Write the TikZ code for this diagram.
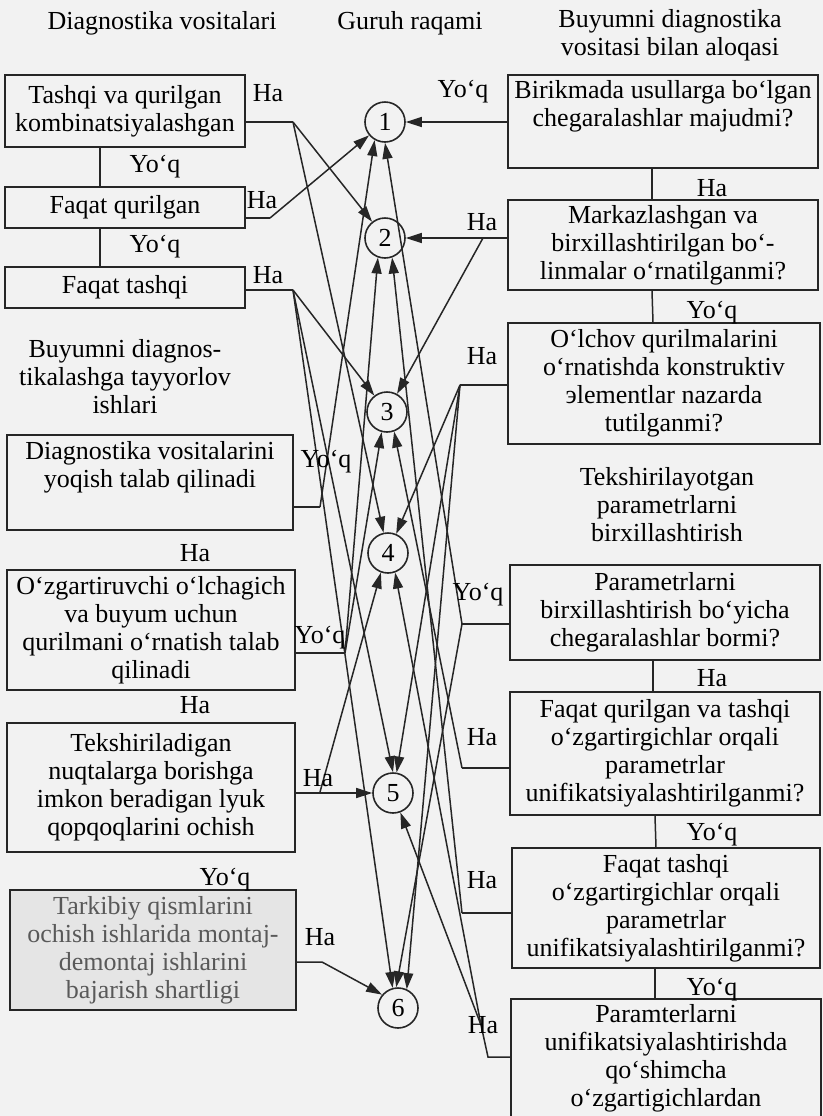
\documentclass[tikz,border=0pt]{standalone}
\usepackage{fontspec}
\setmainfont{Liberation Serif}
\usetikzlibrary{arrows.meta,positioning}

\tikzset{
  savol/.style={draw=black!85, line width=0.9pt, align=center, inner sep=1pt, font=\fontsize{13}{14}\selectfont},
  guruh/.style={draw=black!85, circle, line width=0.8pt, minimum size=20pt, inner sep=0pt, font=\fontsize{13}{14}\selectfont},
  javob/.style={inner sep=0pt, font=\fontsize{13}{14}\selectfont},
  sarlavha/.style={align=center, font=\fontsize{13}{14}\selectfont},
  ulash/.style={line width=0.75pt, draw=black!85},
  strel/.style={ulash, -{Triangle[length=8pt, width=5pt]}},
}

\begin{document}
\begin{tikzpicture}[x=0.5pt, y=-0.5pt]
  \fill[black!5] (0,0) rectangle (823,1116);
  \useasboundingbox (0,0) rectangle (823,1116);

  % sarlavhalar
  \node[sarlavha] (h1) at (162,23) {Diagnostika vositalari};
  \node[sarlavha] (h2) at (410,23) {Guruh raqami};
  \node[sarlavha] (h3) at (670,35) {Buyumni diagnostika\\vositasi bilan aloqasi};
  \node[sarlavha] (h4) at (125,377) {Buyumni diagnos-\\tikalashga tayyorlov\\ishlari};
  \node[sarlavha] (h5) at (667,505) {Tekshirilayotgan\\parametrlarni\\birxillashtirish};

  % chap ustun
  \node[savol, minimum width=120pt, minimum height=36pt] (l1) at (125,111) {Tashqi va qurilgan\\kombinatsiyalashgan};
  \node[savol, minimum width=120pt, minimum height=20.5pt] (l2) at (125,207.5) {Faqat qurilgan};
  \node[savol, minimum width=120pt, minimum height=20.5pt] (l3) at (125,287.5) {Faqat tashqi};
  \node[savol, minimum width=143pt, minimum height=47.5pt] (l4) at (150,482.5) {Diagnostika vositalarini\\yoqish talab qilinadi\\[4pt]~};
  \node[savol, minimum width=144pt, minimum height=60pt] (l5) at (151,630) {O‘zgartiruvchi o‘lchagich\\va buyum uchun\\qurilmani o‘rnatish talab\\qilinadi};
  \node[savol, minimum width=144pt, minimum height=64.5pt] (l6) at (151,787.5) {Tekshiriladigan\\nuqtalarga borishga\\imkon beradigan lyuk\\qopqoqlarini ochish};
  \node[savol, fill=black!10, text=black!65, minimum width=143pt, minimum height=60pt] (l7) at (153,950) {Tarkibiy qismlarini\\ochish ishlarida montaj-\\demontaj ishlarini\\bajarish shartligi};

  % o'ng ustun
  \node[savol, minimum width=155pt, minimum height=46.5pt] (r1) at (663,121.5) {Birikmada usullarga bo‘lgan\\chegaralashlar majudmi?\\[4pt]~};
  \node[savol, minimum width=155pt, minimum height=45pt] (r2) at (663,245) {Markazlashgan va\\birxillashtirilgan bo‘-\\linmalar o‘rnatilganmi?};
  \node[savol, minimum width=156pt, minimum height=60.5pt] (r3) at (664,383.5) {O‘lchov qurilmalarini\\o‘rnatishda konstruktiv\\эlementlar nazarda\\tutilganmi?};
  \node[savol, minimum width=155pt, minimum height=47.5pt] (r4) at (665,612.5) {Parametrlarni\\birxillashtirish bo‘yicha\\chegaralashlar bormi?};
  \node[savol, minimum width=155pt, minimum height=61.5pt] (r5) at (665,753.5) {Faqat qurilgan va tashqi\\o‘zgartirgichlar orqali\\parametrlar\\unifikatsiyalashtirilganmi?};
  \node[savol, minimum width=154pt, minimum height=60pt] (r6) at (666,908) {Faqat tashqi\\o‘zgartirgichlar orqali\\parametrlar\\unifikatsiyalashtirilganmi?};
  \node[savol, draw=none, minimum width=154pt, minimum height=58pt] (r7) at (666,1058) {Paramterlarni\\unifikatsiyalashtirishda\\qo‘shimcha\\o‘zgartigichlardan};
  \draw[savol] (r7.south west) -- (r7.north west) -- (r7.north east) -- (r7.south east);

  % guruh raqamlari
  \node[guruh] (g1) at (385,122) {1};
  \node[guruh] (g2) at (385,238) {2};
  \node[guruh] (g3) at (387,412) {3};
  \node[guruh] (g4) at (388,553) {4};
  \node[guruh] (g5) at (393,793) {5};
  \node[guruh] (g6) at (398,1008) {6};

  % tarmoqlanish nuqtalari
  \coordinate (f1) at (293,122);
  \coordinate (f2) at (270,218);
  \coordinate (f3) at (293,290);
  \coordinate (f4) at (320,507);
  \coordinate (f5) at (345,653);
  \coordinate (f6) at (320,792);
  \coordinate (f7) at (322,962);
  \coordinate (e2) at (483,238);
  \coordinate (e3) at (460,385);
  \coordinate (e4) at (462,624);
  \coordinate (e5) at (462,768);
  \coordinate (e6) at (462,913);
  \coordinate (e7) at (488,1057);
  \coordinate (e7a) at (481,1025);

  % chap ustundagi bog'lanishlar
  \draw[ulash] ([xshift=-12.5pt]l1.south) -- ([xshift=-12.5pt]l2.north);
  \draw[ulash] ([xshift=-12.5pt]l2.south) -- ([xshift=-12.5pt]l3.north);
  \draw[ulash] (l1.east |- f1) -- (f1);
  \draw[strel] (f1) -- (g2);
  \draw[strel] (f1) -- (g4);
  \draw[ulash] (l2.east |- f2) -- (f2);
  \draw[strel] (f2) -- (g1);
  \draw[ulash] (l3.east |- f3) -- (f3);
  \draw[strel] (f3) -- (g3);
  \draw[strel] (f3) -- (g5.north);
  \draw[strel] (f3) -- (g6.105);
  \draw[ulash] (l4.east |- f4) -- (f4);
  \draw[strel] (f4) -- (g1.240);
  \draw[ulash] (l5.east |- f5) -- (f5);
  \draw[strel] (f5) -- (g2.250);
  \draw[strel] (f5) -- (g3.255);
  \draw[strel] (l6.east |- g5) -- (g5);
  \draw[strel] (f6) -- (g4.250);
  \draw[strel] (l7.east |- f7) -- (f7) -- (g6.140);

  % o'ng ustundagi bog'lanishlar
  \draw[ulash] ([xshift=-5.5pt]r1.south) -- ([xshift=-5.5pt]r2.north);
  \draw[ulash] ([xshift=-5.5pt]r2.south) -- ([xshift=-5.5pt]r3.north);
  \draw[ulash] ([xshift=-6pt]r4.south) -- ([xshift=-6pt]r5.north);
  \draw[ulash] ([xshift=-5pt]r5.south) -- ([xshift=-5pt]r6.north);
  \draw[ulash] ([xshift=-5.5pt]r6.south) -- ([xshift=-5.5pt]r7.north);
  \draw[strel] (r1.west |- g1) -- (g1);
  \draw[strel] (r2.west |- g2) -- (g2);
  \draw[strel] (e2) -- (g3);
  \draw[ulash] (r3.west |- e3) -- (e3);
  \draw[strel] (e3) -- (g4);
  \draw[strel] (e3) -- (g5.80);
  \draw[strel] (e3) -- (g6.65);
  \draw[ulash] (r4.west |- e4) -- (e4);
  \draw[strel] (e4) -- (g1.south);
  \draw[strel] (e4) -- (g6.95);
  \draw[ulash] (r5.west |- e5) -- (e5);
  \draw[strel] (e5) -- (g3.290);
  \draw[ulash] (r6.west |- e6) -- (e6);
  \draw[strel] (e6) -- (g2.290);
  \draw[ulash] (r7.west |- e7) -- (e7) -- (e7a);
  \draw[strel] (e7a) -- (g5);
  \draw[strel] (e7a) -- (g4.290);

  % javoblar
  \node[javob] (a1) at (268,93) {Ha};
  \node[javob] (a2) at (155,167) {Yo‘q};
  \node[javob] (a3) at (262,200) {Ha};
  \node[javob] (a4) at (155,247) {Yo‘q};
  \node[javob] (a5) at (268,275) {Ha};
  \node[javob] (a6) at (326,462) {Yo‘q};
  \node[javob] (a7) at (195,553) {Ha};
  \node[javob] (a8) at (320,638) {Yo‘q};
  \node[javob] (a9) at (195,705) {Ha};
  \node[javob] (a10) at (318,778) {Ha};
  \node[javob] (a11) at (225,880) {Yo‘q};
  \node[javob] (a12) at (320,937) {Ha};
  \node[javob] (b1) at (463,92) {Yo‘q};
  \node[javob] (b2) at (712,188) {Ha};
  \node[javob] (b3) at (482,222) {Ha};
  \node[javob] (b4) at (712,313) {Yo‘q};
  \node[javob] (b5) at (482,356) {Ha};
  \node[javob] (b6) at (478,595) {Yo‘q};
  \node[javob] (b7) at (712,678) {Ha};
  \node[javob] (b8) at (482,737) {Ha};
  \node[javob] (b9) at (712,835) {Yo‘q};
  \node[javob] (b10) at (482,880) {Ha};
  \node[javob] (b11) at (712,990) {Yo‘q};
  \node[javob] (b12) at (483,1025) {Ha};
\end{tikzpicture}
\end{document}
